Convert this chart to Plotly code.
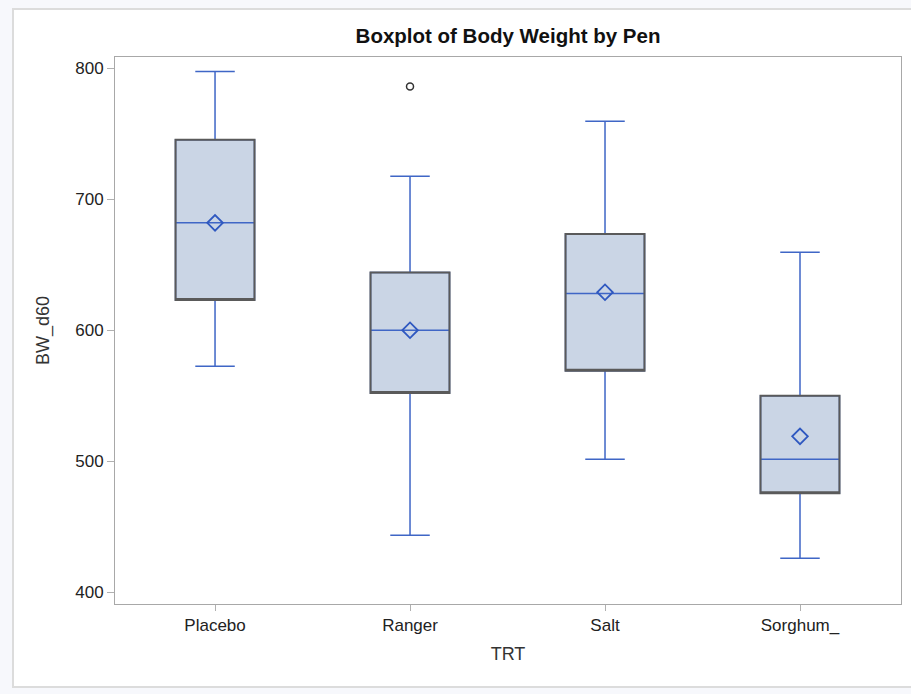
import plotly.graph_objects as go

# ---- data ----
categories = ["Placebo", "Ranger", "Salt", "Sorghum_"]
q1 = [623, 552, 569, 475.5]
median = [682, 600, 628, 501.5]
q3 = [745.5, 644, 673.5, 550]
lower_whisker = [572.5, 443.5, 501.5, 426]
upper_whisker = [797.5, 717.5, 759.5, 659.5]
means = [682, 600, 629, 519]
outlier_cat = ["Ranger"]
outlier_val = [786]

FILL = "#cad5e5"
BLUE = "#3f66c6"
GRAY = "#5a5a5a"
FONT = "Liberation Sans, Arial, sans-serif"

fig = go.Figure()

# Full box: blue whiskers + blue median, light fill
fig.add_trace(go.Box(
    x=categories, q1=q1, median=median, q3=q3,
    lowerfence=lower_whisker, upperfence=upper_whisker,
    fillcolor=FILL, line=dict(color=BLUE, width=1.5),
    width=0.405, whiskerwidth=0.5, boxpoints=False,
    showlegend=False, hoverinfo="skip",
))

# Gray box outline drawn on top (no whiskers, transparent fill)
fig.add_trace(go.Box(
    x=categories, q1=q1, median=q1, q3=q3,
    lowerfence=q1, upperfence=q3,
    fillcolor="rgba(0,0,0,0)", line=dict(color=GRAY, width=2),
    width=0.405, whiskerwidth=0, boxpoints=False,
    showlegend=False, hoverinfo="skip",
))

# Means as open diamonds
fig.add_trace(go.Scatter(
    x=categories, y=means, mode="markers",
    marker=dict(symbol="diamond-open", size=12, color="#2f58c0", line=dict(width=1.8, color="#2f58c0")),
    showlegend=False,
))

# Outlier
fig.add_trace(go.Scatter(
    x=outlier_cat, y=outlier_val, mode="markers",
    marker=dict(symbol="circle-open", size=7, color="#333333", line=dict(width=1.5, color="#333333")),
    showlegend=False,
))

fig.update_layout(
    width=911, height=694,
    margin=dict(l=115, r=10, t=57, b=90),
    paper_bgcolor="#f7f8fc",
    plot_bgcolor="white",
    boxmode="overlay",
    font=dict(family=FONT, color="#333333"),
    title=dict(
        text="<b>Boxplot of Body Weight by Pen</b>",
        font=dict(family=FONT, size=20.5, color="#111111"),
        x=0.5, xref="paper", xanchor="center",
        y=1 - 36 / 694, yref="container", yanchor="middle",
    ),
    shapes=[dict(
        type="rect", xref="paper", yref="paper",
        x0=(13 - 115) / 786, x1=(920 - 115) / 786,
        y0=(604 - 687) / 547, y1=(604 - 9) / 547,
        fillcolor="white", line=dict(color="#dcdcdc", width=2),
        layer="below",
    )],
)

fig.update_xaxes(
    range=[-0.513, 3.518],
    showline=True, linecolor="#a8a8a8", linewidth=1, mirror=True,
    ticks="outside", ticklen=6, tickcolor="#b0b0b0",
    tickfont=dict(size=17, color="#222222"),
    title=dict(text="TRT", font=dict(size=18, color="#333333"), standoff=12),
    showgrid=False, zeroline=False,
)
fig.update_yaxes(
    range=[391, 808.6],
    tickvals=[400, 500, 600, 700, 800],
    showline=True, linecolor="#a8a8a8", linewidth=1, mirror=True,
    ticks="outside", ticklen=7, tickcolor="#b0b0b0",
    tickfont=dict(size=17, color="#222222"),
    title=dict(text="BW_d60", font=dict(size=18, color="#333333"), standoff=20),
    showgrid=False, zeroline=False,
)

fig.write_html(
    "out.html",
    config={"displayModeBar": False},
    post_script="document.body.style.margin='0';document.body.style.overflow='hidden';",
)
